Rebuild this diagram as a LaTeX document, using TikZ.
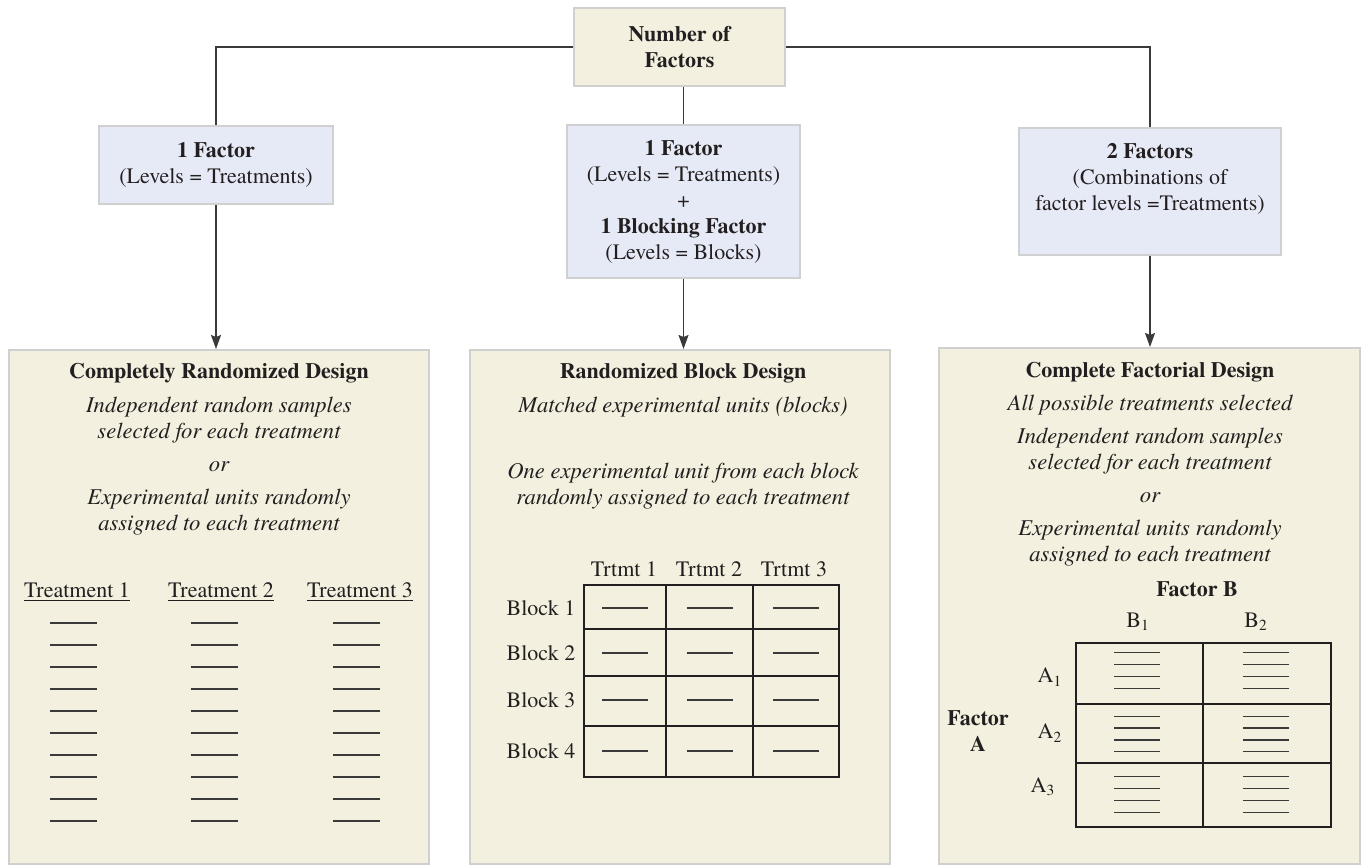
\documentclass[tikz,border=0pt]{standalone}
\usepackage{fontspec}
\IfFontExistsTF{texgyretermes-regular.otf}{%
  \setmainfont{texgyretermes}[Extension=.otf, UprightFont=*-regular, BoldFont=*-bold, ItalicFont=*-italic, BoldItalicFont=*-bolditalic]}{}
\usepackage{xcolor}
\usepackage{tikz}
\usetikzlibrary{arrows.meta}

\definecolor{ink}{HTML}{231F20}
\definecolor{sand}{HTML}{F3F0DF}
\definecolor{pale}{HTML}{E6EAF6}
\definecolor{edge}{HTML}{D0D0D0}
\definecolor{wire}{HTML}{3A3A3A}

\newcommand{\bodysize}{\fontsize{11}{13}\selectfont}
\newcommand{\notesize}{\fontsize{11.3}{13}\selectfont}

\tikzset{
  factorbox/.style={draw=edge, line width=0.8pt, fill=pale, align=center, inner sep=0pt},
  designbox/.style={draw=edge, line width=0.8pt, fill=sand, anchor=north, inner sep=0pt},
  link/.style={draw=wire, line width=0.7pt},
  blank/.style={draw=wire, line width=0.65pt},
  grid line/.style={draw=ink, line width=0.8pt},
  note/.style={align=center, font=\notesize\itshape},
  heading/.style={font=\bodysize\bfseries}
}

\begin{document}
\begin{tikzpicture}[x=0.5pt, y=-0.5pt, font=\bodysize, text=ink]
        \useasboundingbox (0,0) rectangle (1363,864);

        % top of the tree
        \node[factorbox, fill=sand, minimum width=105.5pt, minimum height=39pt, font=\bodysize\bfseries] (nf) at (679.5,47) {Number of\\Factors};
        \node[factorbox, minimum width=117pt, minimum height=39pt] (f1) at (216,165) {\textbf{1 Factor}\\(Levels = Treatments)};
        \node[factorbox, minimum width=116.5pt, minimum height=76.5pt] (fb) at (683.5,201.5) {\textbf{1 Factor}\\(Levels = Treatments)\\+\\\textbf{1 Blocking Factor}\\(Levels = Blocks)};
        \node[factorbox, minimum width=131pt, minimum height=63.5pt] (f2) at (1150,191.5) {};
        \node[align=center] (f2txt) at (1150,178.5) {\textbf{2 Factors}\\(Combinations of\\factor levels =Treatments)};

        % the three designs
        \node[designbox, minimum width=210pt, minimum height=257pt] (crd) at (219,349) {};
        \node[designbox, minimum width=210pt, minimum height=257pt] (rbd) at (680,349) {};
        \node[designbox, minimum width=210.5pt, minimum height=258pt] (cfd) at (1149.5,347) {};

        \draw[link] (nf.west) -| (f1.north);
        \draw[link] (nf.east) -| (f2.north);
        \draw[link] (fb.north |- nf.south) -- (fb.north);
        \draw[link, -{Stealth[length=7pt, width=5pt, inset=1pt]}] (f1.south) -- (f1.south |- crd.north);
        \draw[link, -{Stealth[length=7pt, width=5pt, inset=1pt]}] (fb.south) -- (fb.south |- rbd.north);
        \draw[link, -{Stealth[length=7pt, width=5pt, inset=1pt]}] (f2.south) -- (f2.south |- cfd.north);

        % completely randomized
        \node[heading] (crdtitle) at (219,373) {Completely Randomized Design};
        \node[note] (crdtext) at (219,466) {Independent random samples\\selected for each treatment\\[3.5pt] or\\[3.5pt] Experimental units randomly\\assigned to each treatment};
        \node (tr1) at (77,592) {\underline{Treatment 1}};
        \node (tr2) at (221,592) {\underline{Treatment 2}};
        \node (tr3) at (360,592) {\underline{Treatment 3}};
        \foreach \cx in {73.5,214,356}
          \foreach \r in {0,...,9}
            \draw[blank] (\cx-23.5,623+22*\r) -- ++(47,0);

        % randomized block
        \node[heading] (rbdtitle) at (683,373) {Randomized Block Design};
        \node[note] (rbdtext) at (683,407) {Matched experimental units (blocks)};
        \node[note] (rbdtext2) at (683,486) {One experimental unit from each block\\randomly assigned to each treatment};
        \foreach \t/\cx in {1/624,2/709,3/794}
          \node (trt\t) at (\cx,569) {Trtmt \t};
        \draw[grid line] (584,585) rectangle (839,777);
        \foreach \gx in {666,753}
          \draw[grid line] (\gx,585) -- (\gx,777);
        \foreach \gy in {629,676,726}
          \draw[grid line] (584,\gy) -- (839,\gy);
        \foreach \b/\cy in {1/608,2/653,3/700,4/751} {
          \node (blk\b) at (541,\cy) {Block \b};
          \foreach \cx in {625,709.5,796}
            \draw[blank] (\cx-23,\cy) -- ++(46,0);
        }

        % complete factorial
        \node[heading] (cfdtitle) at (1150,372) {Complete Factorial Design};
        \node[note] (cfdtext) at (1150,405) {All possible treatments selected};
        \node[note] (cfdtext2) at (1150,497) {Independent random samples\\selected for each treatment\\[3.5pt] or\\[3.5pt] Experimental units randomly\\assigned to each treatment};
        \node[heading] (facb) at (1197,589) {Factor B};
        \node (b1) at (1138,622) {B\textsubscript{1}};
        \node (b2) at (1256,622) {B\textsubscript{2}};
        \node[heading, align=center] (faca) at (978,731) {Factor\\A};
        \node (a1) at (1050,677) {A\textsubscript{1}};
        \node (a2) at (1050,733) {A\textsubscript{2}};
        \node (a3) at (1043,787) {A\textsubscript{3}};
        \draw[grid line] (1076,643) rectangle (1331,827);
        \draw[grid line] (1203,643) -- (1203,827);
        \foreach \gy in {704,763}
          \draw[grid line] (1076,\gy) -- (1331,\gy);
        \foreach \cy in {670.5,734,794.5}
          \foreach \cx in {1137,1266}
            \foreach \k in {-1.5,-0.5,0.5,1.5}
              \draw[blank] (\cx-23,\cy+11.8*\k) -- ++(46,0);
\end{tikzpicture}
\end{document}
